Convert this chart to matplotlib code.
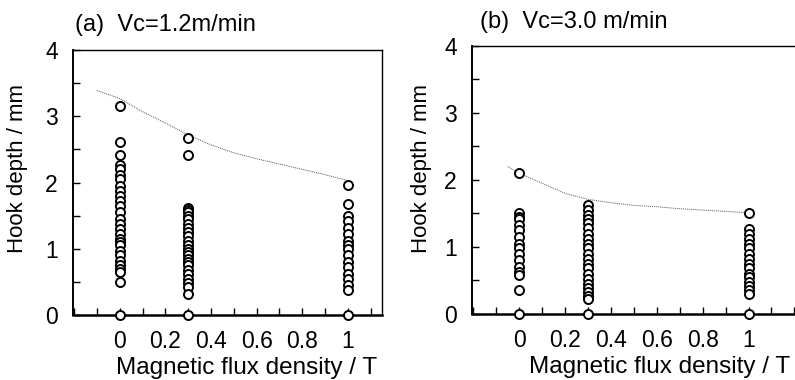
import matplotlib
matplotlib.use("Agg")
from matplotlib import pyplot as plt
from matplotlib.ticker import MultipleLocator

plt.rcParams['font.family'] = ['Liberation Sans', 'DejaVu Sans']

# panel (a) Vc = 1.2 m/min
a_b0 = [3.15, 2.62, 2.42, 2.27, 2.2, 2.12, 2.05, 1.95, 1.88, 1.8, 1.72, 1.65, 1.55,
        1.45, 1.38, 1.3, 1.22, 1.15, 1.1, 1.05, 0.97, 0.9, 0.82, 0.75, 0.7, 0.65, 0.5, 0.0]
a_b03 = [2.67, 2.42, 1.62, 1.58, 1.55, 1.5, 1.45, 1.38, 1.32, 1.25, 1.2, 1.12, 1.05,
         1.0, 0.95, 0.9, 0.85, 0.8, 0.75, 0.68, 0.62, 0.55, 0.48, 0.42, 0.32, 0.0]
a_b1 = [1.96, 1.68, 1.5, 1.42, 1.32, 1.22, 1.12, 1.05, 1.0, 0.9, 0.8, 0.72, 0.62,
        0.55, 0.45, 0.38, 0.0]
a_fit_x = [-0.1, 0.0, 0.1, 0.2, 0.3, 0.4, 0.5, 0.6, 0.7, 0.8, 0.9, 1.0]
a_fit_y = [3.39, 3.27, 3.07, 2.9, 2.72, 2.57, 2.45, 2.36, 2.28, 2.2, 2.12, 2.03]

# panel (b) Vc = 3.0 m/min
b_b0 = [2.1, 1.5, 1.45, 1.42, 1.32, 1.25, 1.15, 1.05, 0.98, 0.9, 0.8, 0.7, 0.62,
        0.58, 0.36, 0.0]
b_b03 = [1.62, 1.55, 1.48, 1.42, 1.35, 1.28, 1.2, 1.12, 1.05, 0.98, 0.9, 0.82, 0.75,
         0.68, 0.6, 0.52, 0.45, 0.38, 0.32, 0.27, 0.22, 0.0]
b_b1 = [1.5, 1.27, 1.2, 1.12, 1.05, 0.98, 0.9, 0.82, 0.75, 0.68, 0.6, 0.55, 0.48,
        0.42, 0.35, 0.3, 0.0]
b_fit_x = [-0.05, 0.0, 0.1, 0.2, 0.3, 0.4, 0.5, 0.6, 0.7, 0.8, 0.9, 1.0]
b_fit_y = [2.2, 2.1, 1.95, 1.8, 1.71, 1.66, 1.62, 1.6, 1.57, 1.55, 1.53, 1.51]

flux = [0.0, 0.3, 1.0]
xticks = [0, 0.2, 0.4, 0.6, 0.8, 1]
xticklabels = ["0", "0.2", "0.4", "0.6", "0.8", "1"]

fig = plt.figure(figsize=(7.95, 3.8), dpi=100)
ax_a = fig.add_axes([0.0918, 0.171, 0.3887, 0.697])
ax_b = fig.add_axes([0.5937, 0.174, 0.42, 0.705])


def draw_panel(ax, groups, fit_x, fit_y, xmax, show_right):
    ax.plot(fit_x, fit_y, color="#555555", linestyle=(0, (1, 1)), linewidth=0.7, zorder=2)
    for xv, ys in zip(flux, groups):
        ax.plot([xv] * len(ys), ys, linestyle="none", marker="o", markersize=6.5,
                markerfacecolor="white", markeredgecolor="black", markeredgewidth=1.4,
                clip_on=False, zorder=3)
    ax.set_xlim(-0.205, xmax)
    ax.set_ylim(0, 4)
    ax.set_xticks(xticks)
    ax.set_xticklabels(xticklabels)
    ax.xaxis.set_minor_locator(MultipleLocator(0.1))
    ax.set_yticks([0, 1, 2, 3, 4])
    ax.yaxis.set_minor_locator(MultipleLocator(0.5))
    ax.tick_params(axis="both", which="both", direction="in", labelsize=16.5, width=1.0)
    ax.tick_params(axis="both", which="major", length=5, pad=11)
    ax.tick_params(axis="both", which="minor", length=5)
    ax.tick_params(axis="x", which="both", bottom=True, top=False)
    ax.tick_params(axis="y", which="both", left=True, right=False)
    ax.spines["bottom"].set_linewidth(1.8)
    ax.spines["left"].set_linewidth(1.4)
    ax.spines["top"].set_linewidth(1.0)
    ax.spines["right"].set_linewidth(1.0)
    ax.spines["right"].set_visible(show_right)


draw_panel(ax_a, [a_b0, a_b03, a_b1], a_fit_x, a_fit_y, 1.15, True)
draw_panel(ax_b, [b_b0, b_b03, b_b1], b_fit_x, b_fit_y, 1.25, False)

fig.text(75 / 795, 1 - 25 / 380, "(a)  Vc=1.2m/min", fontsize=17, ha="left", va="center")
fig.text(480 / 795, 1 - 22 / 380, "(b)  Vc=3.0 m/min", fontsize=17, ha="left", va="center")

fig.text(18 / 795, 1 - 168 / 380, "Hook depth / mm", fontsize=16, rotation=90,
         ha="center", va="center")
fig.text(422 / 795, 1 - 168 / 380, "Hook depth / mm", fontsize=16, rotation=90,
         ha="center", va="center")

fig.text(247 / 795, 1 - 368 / 380, "Magnetic flux density / T", fontsize=17.5,
         ha="center", va="center")
fig.text(660 / 795, 1 - 367 / 380, "Magnetic flux density / T", fontsize=17.5,
         ha="center", va="center")

fig.savefig("out.png", dpi=100)
